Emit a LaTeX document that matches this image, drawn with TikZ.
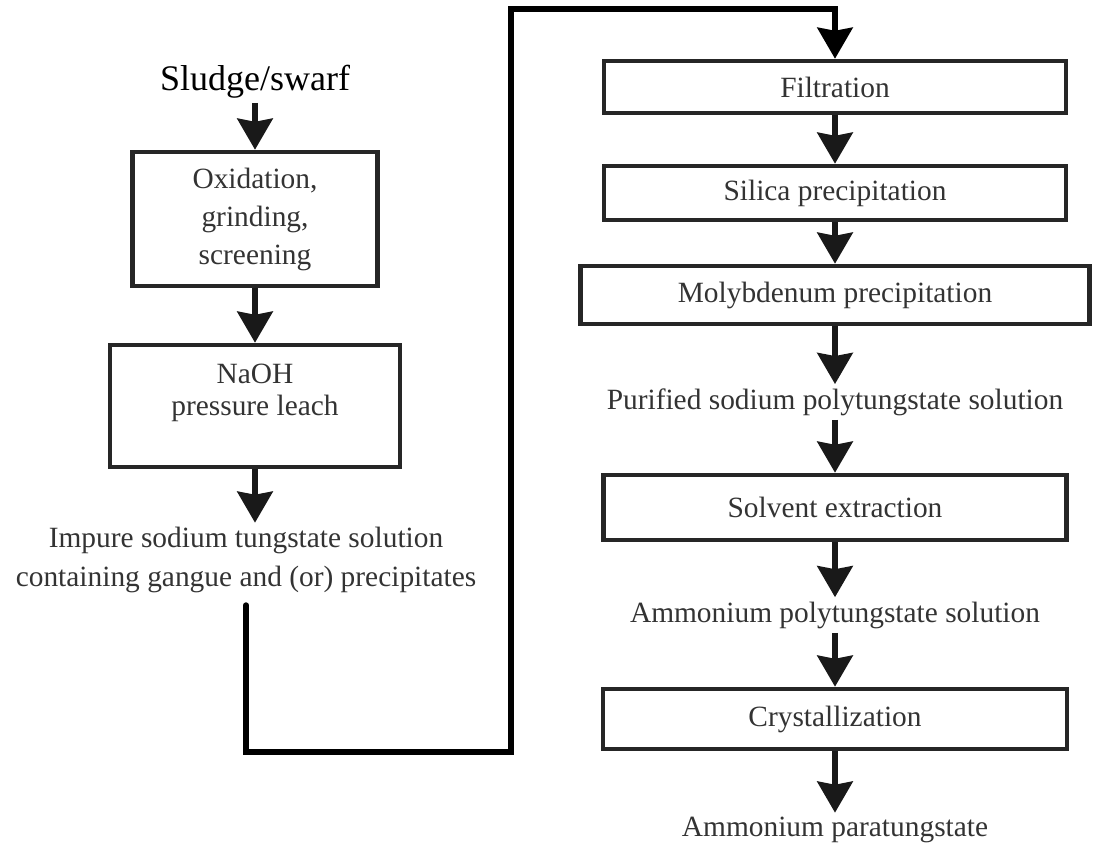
\documentclass[tikz,border=0pt]{standalone}
\usepackage{fontspec}
\setmainfont{Liberation Serif}
\usetikzlibrary{arrows.meta}

\tikzset{bigtip/.tip={Stealth[length=15.5pt, width=17.5pt, inset=1.5pt]}}

\begin{document}
\begin{tikzpicture}[
        x=0.5pt, y=-0.5pt, % координаты в пикселях
        every node/.style = {font=\fontsize{14.7}{18.75}\selectfont, text=black!80},
        box/.style = {draw=black!85, line width=2.25pt, inner sep=0pt, align=center}, % прямоугольники
        txt/.style = {align=center, inner sep=2pt}, % подписи без рамки
        flow/.style = {draw=black!90, line width=3.2pt, -bigtip}, % стрелки
        pipe/.style = {draw=black, line width=3pt, line cap=round, -bigtip}, % длинная линия
    ]
    \useasboundingbox (0,0) rectangle (1093,843);

    % левая колонка
    \node[txt, font=\fontsize{18}{22}\selectfont, text=black] (sludge) at (255,82) {Sludge/swarf};
    \node[box, minimum width=122.5pt, minimum height=67pt, font=\fontsize{14.7}{19}\selectfont] (oxid) at (255,219) {Oxidation,\\grinding,\\screening};
    \node[box, minimum width=145pt, minimum height=61pt, font=\fontsize{14.7}{16}\selectfont] (leach) at (255,406) {NaOH\\pressure leach\\\mbox{}};
    \node[txt, font=\fontsize{14.7}{19.5}\selectfont] (impure) at (246,560) {Impure sodium tungstate solution\\containing gangue and (or) precipitates};

    % правая колонка
    \node[box, minimum width=231pt, minimum height=26pt] (filt) at (835,87) {Filtration};
    \node[box, minimum width=231pt, minimum height=27pt] (silica) at (835,193) {Silica precipitation};
    \node[box, minimum width=254.5pt, minimum height=29pt] (moly) at (835,295) {Molybdenum precipitation};
    \node[txt] (purif) at (835,402) {Purified sodium polytungstate solution};
    \node[box, minimum width=231.5pt, minimum height=32.5pt] (solvex) at (835,507.5) {Solvent extraction};
    \node[txt] (ammpoly) at (835,615) {Ammonium polytungstate solution};
    \node[box, minimum width=232pt, minimum height=30pt] (cryst) at (835,719) {Crystallization};
    \node[txt] (apt) at (835,830) {Ammonium paratungstate};

    \coordinate (bend) at (511,752);
    \coordinate (top) at (511,9);

    \draw[flow] (sludge) -- (oxid);
    \draw[flow] (oxid) -- (leach);
    \draw[flow] (leach.south) -- (leach.south |- impure.north);
    \draw[pipe] ([yshift=-4pt]impure.south) |- (bend) -- (top) -| (filt.north);

    \draw[flow] (filt) -- (silica);
    \draw[flow] (silica) -- (moly);
    \draw[flow] (moly) -- (purif);
    \draw[flow] (purif) -- (solvex);
    \draw[flow] (solvex) -- (ammpoly);
    \draw[flow] (ammpoly) -- (cryst);
    \draw[flow] (cryst) -- (apt);

\end{tikzpicture}
\end{document}
